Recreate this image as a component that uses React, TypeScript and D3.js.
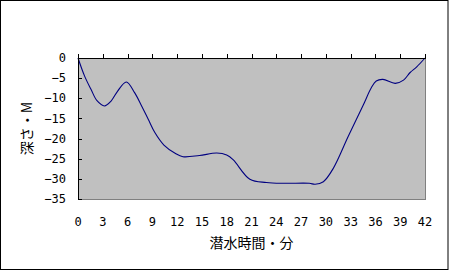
import React from "react";
import * as d3 from "d3";

const timeMin = [0, 0.8, 1.6, 2.3, 3.2, 4.0, 4.8, 5.85, 6.85, 7.7, 8.5, 9.3, 10.4, 11.8, 12.7, 14.7, 16.8, 18, 18.8, 20.8, 22.8, 25, 28, 28.7, 29.7, 30.9, 32.7, 34.5, 35.5, 36.1, 36.9, 38.4, 39.4, 40.2, 41, 42];
const depthM = [0, -4.5, -7.9, -10.6, -11.9, -10.7, -8.2, -5.95, -8.6, -11.9, -15.2, -18.5, -21.6, -23.7, -24.5, -24.2, -23.6, -24.1, -25.3, -30.1, -30.9, -31.1, -31.1, -31.35, -30.7, -27.4, -19.5, -11.8, -7.4, -5.7, -5.3, -6.3, -5.5, -3.6, -2.2, 0];
const xTicks = [0, 3, 6, 9, 12, 15, 18, 21, 24, 27, 30, 33, 36, 39, 42];
const yTicks = [0, -5, -10, -15, -20, -25, -30, -35];
const xTitle = "潜水時間・分";
const yTitle = "深さ・M";

const W = 449, H = 271;
const L = 78, R = 425, T = 58, B = 199;

export default function App() {
  const x = d3.scaleLinear().domain([0, 42]).range([L, R]);
  const y = d3.scaleLinear().domain([0, -35]).range([T, B]);
  const pts: [number, number][] = timeMin.map((t, i) => [t, depthM[i]]);
  const line = d3.line<[number, number]>().x(d => x(d[0])).y(d => y(d[1])).curve(d3.curveCatmullRom.alpha(0.5));
  const numFont = "'DejaVu Sans Mono', monospace";
  const jpFont = "'Noto Sans CJK JP', sans-serif";
  return (
    <div style={{ position: "fixed", left: 0, top: 0 }}>
      <svg width={W} height={H} style={{ display: "block" }}>
        <rect x={0} y={0} width={W} height={H} fill="#fff" />
        <rect x={0.5} y={0.5} width={447.5} height={269} fill="none" stroke="#000" strokeWidth={1} />
        <rect x={L} y={T} width={R - L} height={B - T} fill="#C0C0C0" />
        <line x1={R + 0.5} x2={R + 0.5} y1={T} y2={B + 0.5} stroke="#808080" />
        <line x1={L} x2={R + 1} y1={B + 0.5} y2={B + 0.5} stroke="#808080" />
        <path d={line(pts) || ""} fill="none" stroke="#000080" strokeWidth={1.1} />
        <line x1={L + 0.5} x2={L + 0.5} y1={T} y2={B + 1} stroke="#000" />
        <line x1={L} x2={R + 1} y1={T + 0.5} y2={T + 0.5} stroke="#000" />
        {xTicks.map(t => (
          <g key={"x" + t}>
            <line x1={Math.round(x(t)) + 0.5} x2={Math.round(x(t)) + 0.5} y1={T - 4} y2={T} stroke="#000" />
            <text x={x(t)} y={226} textAnchor="middle" fontFamily={numFont} fontSize={12} fill="#000">{t}</text>
          </g>
        ))}
        {yTicks.map(v => (
          <g key={"y" + v}>
            <line x1={L} x2={L + 4} y1={Math.round(y(v)) + 0.5} y2={Math.round(y(v)) + 0.5} stroke="#000" />
            <text x={66} y={y(v)} dy="0.35em" textAnchor="end" fontFamily={numFont} fontSize={12} fill="#000">{v === 0 ? "0" : "\u2212" + Math.abs(v)}</text>
          </g>
        ))}
        <text x={(L + R) / 2} y={243} dy="0.35em" textAnchor="middle" fontFamily={jpFont} fontSize={14} fill="#000">{xTitle}</text>
        <text transform={`translate(27,${(T + B) / 2}) rotate(-90)`} dy="0.35em" textAnchor="middle" fontFamily={jpFont} fontSize={14} fill="#000">{yTitle}</text>
      </svg>
    </div>
  );
}
